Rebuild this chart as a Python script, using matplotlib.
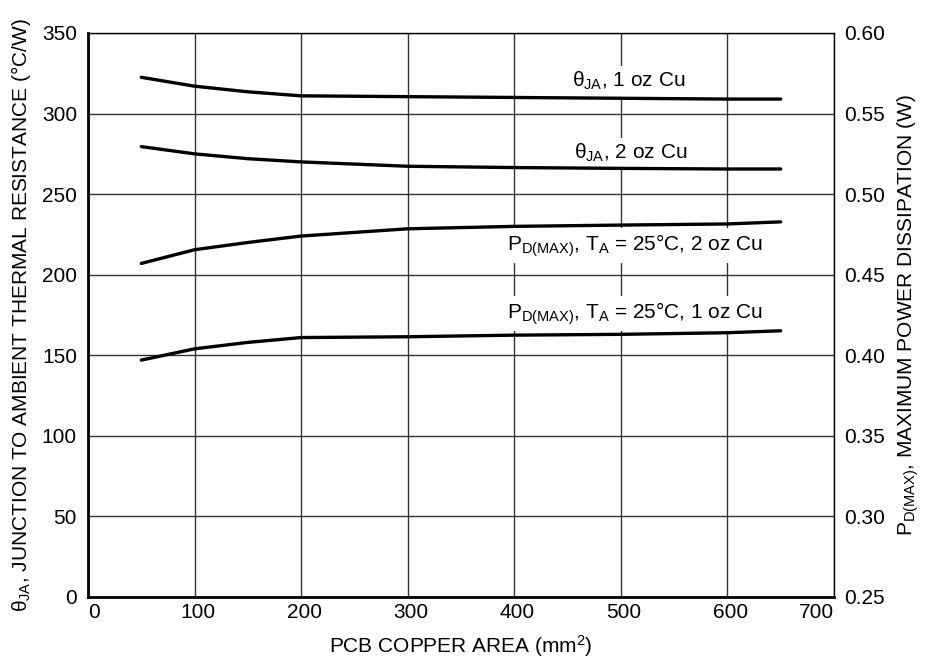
import matplotlib
matplotlib.use("Agg")
import matplotlib.pyplot as plt
import matplotlib.transforms as mtransforms

plt.rcParams['font.family'] = ['Liberation Sans', 'DejaVu Sans']
plt.rcParams['mathtext.fontset'] = 'custom'
plt.rcParams['mathtext.rm'] = 'Liberation Sans'
plt.rcParams['mathtext.it'] = 'Liberation Sans'
plt.rcParams['mathtext.bf'] = 'Liberation Sans:bold'

# Data
area = [50, 100, 150, 200, 300, 400, 500, 600, 650]
theta_1oz = [322.5, 317, 313.5, 311, 310.5, 310, 309.5, 309, 309]
theta_2oz = [279.5, 275, 272, 270, 267.3, 266.5, 266, 265.6, 265.6]
pd_2oz = [0.457, 0.4655, 0.470, 0.474, 0.4785, 0.480, 0.4808, 0.4815, 0.4828]
pd_1oz = [0.397, 0.404, 0.408, 0.411, 0.4115, 0.4125, 0.413, 0.414, 0.4152]

x_ticks = [0, 100, 200, 300, 400, 500, 600, 700]
left_ticks = [0, 50, 100, 150, 200, 250, 300, 350]
right_ticks = [0.25, 0.30, 0.35, 0.40, 0.45, 0.50, 0.55, 0.60]

fig = plt.figure(figsize=(9.26, 6.57), dpi=100)
ax = fig.add_axes([88/926, 60/657, (834-88)/926, (597-33)/657])
ax2 = ax.twinx()

ax.set_xlim(0, 700)
ax.set_ylim(0, 350)
ax2.set_ylim(0.25, 0.60)

ax.set_xticks(x_ticks)
ax.set_yticks(left_ticks)
ax2.set_yticks(right_ticks)
ax2.set_yticklabels([f"{v:.2f}" for v in right_ticks])

fs = 15
ax.tick_params(axis='x', length=0, labelsize=fs, pad=4)
ax.tick_params(axis='y', length=0, labelsize=fs, pad=8)
ax2.tick_params(axis='y', length=0, labelsize=fs, pad=7)

# x tick label alignment like the reference: first left-aligned, last right-aligned,
# the others nudged slightly right
shift = mtransforms.ScaledTranslation(3/100, 0, fig.dpi_scale_trans)
xlabels = ax.get_xticklabels()
for i, lab in enumerate(xlabels):
    if i == 0:
        lab.set_ha('left')
    elif i == len(xlabels) - 1:
        lab.set_ha('right')
    else:
        lab.set_transform(lab.get_transform() + shift)

ax.grid(True, color='#333333', linewidth=1.0)
ax.set_axisbelow(True)

for s in ['left', 'bottom']:
    ax.spines[s].set_linewidth(2.0)
for s in ['top', 'right']:
    ax.spines[s].set_linewidth(1.0)
for s in ax2.spines.values():
    s.set_visible(False)

lw = 2.4
ax.plot(area, theta_1oz, color='black', lw=lw, solid_capstyle='round', zorder=3)
ax.plot(area, theta_2oz, color='black', lw=lw, solid_capstyle='round', zorder=3)
ax2.plot(area, pd_2oz, color='black', lw=lw, solid_capstyle='round', zorder=3)
ax2.plot(area, pd_1oz, color='black', lw=lw, solid_capstyle='round', zorder=3)

bbox = dict(facecolor='white', edgecolor='none', pad=3)
ax.text(507, 320, r'$\theta_{\mathrm{JA}}$, 1 oz Cu', fontsize=fs, ha='center', va='center', bbox=bbox, zorder=2)
ax.text(509, 275.5, r'$\theta_{\mathrm{JA}}$, 2 oz Cu', fontsize=fs, ha='center', va='center', bbox=bbox, zorder=2)
ax.text(513, 218, r'$\mathrm{P_{D(MAX)}}$, $\mathrm{T_A}$ = 25°C, 2 oz Cu', fontsize=fs, ha='center', va='center', bbox=bbox, zorder=2)
ax.text(513, 176, r'$\mathrm{P_{D(MAX)}}$, $\mathrm{T_A}$ = 25°C, 1 oz Cu', fontsize=fs, ha='center', va='center', bbox=bbox, zorder=2)

ax.set_xlabel(r'PCB COPPER AREA (mm$^{\mathrm{2}}$)', fontsize=fs, labelpad=8)
ax.set_ylabel(r'$\theta_{\mathrm{JA}}$, JUNCTION TO AMBIENT THERMAL RESISTANCE (°C/W)', fontsize=fs, labelpad=6)
ax2.set_ylabel(r'$\mathrm{P_{D(MAX)}}$, MAXIMUM POWER DISSIPATION (W)', fontsize=fs, labelpad=8)

fig.savefig('out.png', dpi=100)
